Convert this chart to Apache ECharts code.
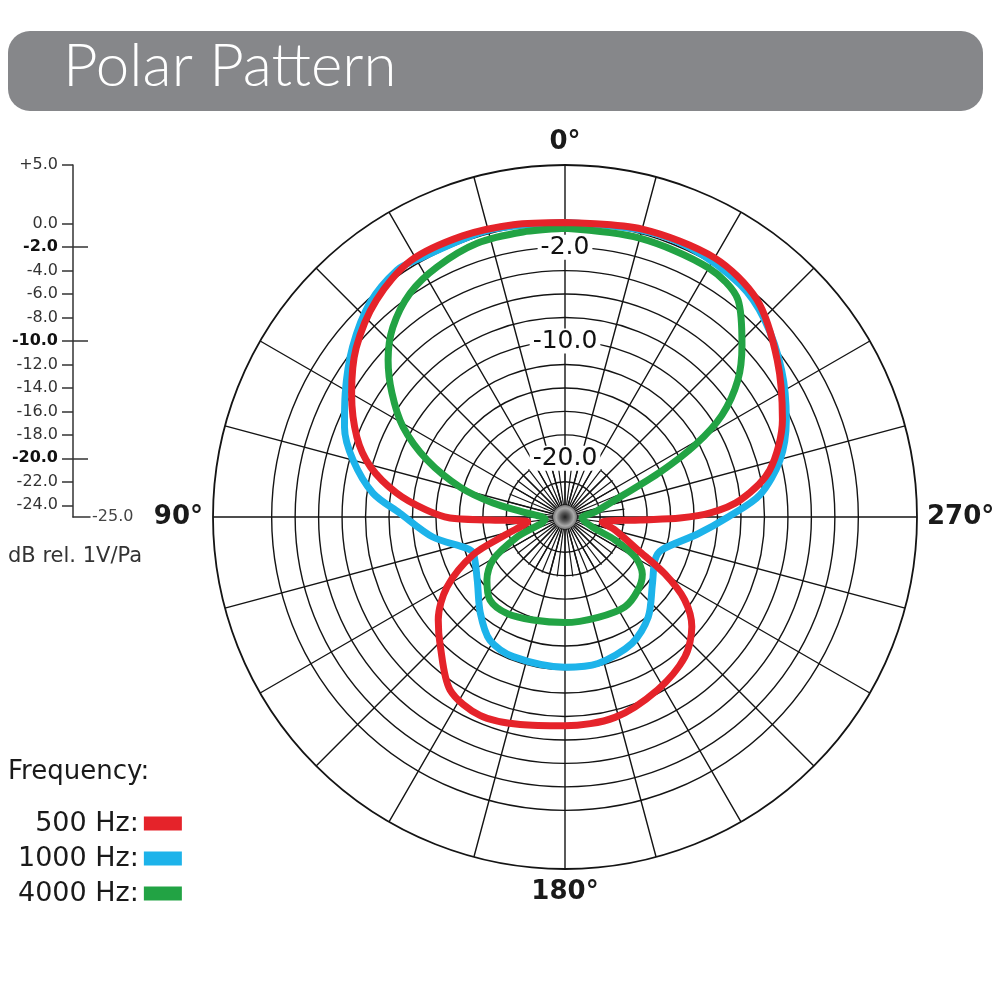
<!DOCTYPE html>
<html><head><meta charset="utf-8">
<script src="https://cdn.jsdelivr.net/npm/echarts@6/dist/echarts.min.js"></script>
<style>html,body{margin:0;padding:0;background:#fff}#c{width:1000px;height:1000px}</style>
</head><body><div id="c"></div>
<script>
// ---- data (angle in degrees, counter-clockwise from 0° at top; level in dB) ----
const seriesNames = ['500 Hz', '1000 Hz', '4000 Hz'];

const redAngle = [0, 10, 20, 31, 41, 51, 60, 69, 75.6, 81.9, 87, 90.5, 92.3, 97.7, 106.7, 112.4, 120.7, 129, 136, 146.4, 156.8, 167.8, 180, 194, 208.3, 220.6, 229.1, 235.3, 240.3, 245.7, 255.4, 262, 267.7, 269.5, 271.6, 275.5, 282.9, 294.1, 306.5, 318.5, 330, 345, 360];
const redDb    = [0.1, 0.3, 0.5, 0.5, -0.5, -2.1, -4.0, -6.0, -7.9, -10.5, -13.1, -15.2, -18.6, -21.8, -19.7, -16.5, -13.3, -11.1, -9.7, -7.3, -6.6, -6.9, -7.2, -7.4, -8.3, -9.3, -10.7, -12.6, -15.2, -18.2, -20.6, -21.8, -18.6, -15.2, -12.6, -10.0, -7.1, -4.7, -2.5, -0.3, 0.5, 0.4, 0.1];

const blueAngle = [0, 15, 29.9, 34.2, 42.3, 51.3, 60.6, 67.8, 75, 82.9, 88.6, 98.6, 107.6, 111.4, 125.6, 138.5, 148.6, 159.6, 180, 192.7, 207.8, 219.7, 232.4, 244.5, 251.2, 262.7, 270, 276.4, 284.8, 293.7, 304.1, 314.6, 323, 335, 345, 360];
const blueDb    = [0.1, 0.3, 0.3, 0.45, -0.3, -1.8, -3.5, -4.7, -6.3, -8.5, -10.9, -13.6, -16.2, -16.6, -15.8, -14.1, -12.7, -12.3, -12.2, -12.2, -12.8, -13.9, -15.6, -16.5, -16.3, -13.6, -11.1, -8.3, -6.05, -4.4, -2.7, -1.1, -0.2, 0.3, 0.3, 0.1];

const greenAngle = [0, 8.4, 17.8, 27.1, 34.7, 42.2, 48.4, 54.4, 60.9, 67.6, 74.1, 79, 84, 96, 112.6, 120.8, 128.9, 137.9, 148.9, 162.7, 180, 198.3, 213.7, 225, 233.5, 240.3, 245.3, 249.7, 266.6, 279.5, 290, 295.3, 299, 303, 308.4, 314.2, 321.4, 330, 345, 360];
const greenDb    = [-0.4, -0.45, -0.5, -1.06, -1.8, -3.16, -4.84, -6.86, -9.2, -12.3, -15.7, -18.75, -21.7, -23.3, -20.6, -17.85, -16.45, -15.46, -15.4, -15.8, -16.0, -16.0, -15.8, -16.2, -16.8, -18.1, -20.3, -22.5, -23.55, -22.4, -20.0, -16.0, -12.3, -9.05, -6.2, -3.96, -1.35, -0.5, -0.4, -0.4];

const scaleTicks = [5, 0, -2, -4, -6, -8, -10, -12, -14, -16, -18, -20, -22, -24];
const boldTicks = [-2, -10, -20];
const ringLabelValues = [-2, -10, -20];
const angleLabelValues = [0, 90, 180, 270];
const dbMin = -25, dbMax = 5;

// ---- build ----
const FONT = 'DejaVu Sans';
const GRID = '#141414';
const pairs = (db, ang) => db.map((d, i) => [d, ang[i]]);

const ringColors = [];
for (let v = dbMin; v <= dbMax; v++) {
  ringColors.push((v <= 0 && v >= -24 && v % 2 === 0) ? GRID : 'rgba(0,0,0,0)');
}

const curveStyle = [
  { color: '#e5232a' },
  { color: '#1db3ea' },
  { color: '#22a344' }
];

const chart = echarts.init(document.getElementById('c'), null, { renderer: 'canvas' });
const spokeAxis = (idx, step) => ({
  polarIndex: idx, type: 'value', min: 0, max: 360, interval: step,
  startAngle: 90, clockwise: false,
  axisLine: { show: false }, axisTick: { show: false }, axisLabel: { show: false },
  splitLine: { show: true, lineStyle: { color: GRID, width: 1.2 } }
});

chart.setOption({
  animation: false,
  backgroundColor: '#fff',
  graphic: [{
    type: 'rect', left: 8, top: 31, z: -10,
    shape: { width: 975, height: 80, r: 22 },
    style: { fill: '#86878a' }
  }],
  title: [
    { text: 'Polar Pattern', left: 63, top: 37, padding: 0, z: 10,
      textStyle: { color: '#fff', fontSize: 60, fontWeight: 300, fontFamily: 'Lato' } },
    { text: 'Frequency:', left: 8, top: 759, padding: 0,
      textStyle: { color: '#1a1a1a', fontSize: 26, fontWeight: 'normal', fontFamily: FONT } },
    { text: 'dB rel. 1V/Pa', left: 8, top: 546, padding: 0,
      textStyle: { color: '#333', fontSize: 21, fontWeight: 'normal', fontFamily: FONT } }
  ],
  legend: {
    data: seriesNames, orient: 'vertical', align: 'right',
    left: 13, top: 805, itemWidth: 38, itemHeight: 14, itemGap: 8,
    icon: 'rect', selectedMode: false, formatter: '{name}:',
    itemStyle: { borderWidth: 0 },
    textStyle: { fontSize: 27, color: '#1a1a1a', fontFamily: FONT }
  },
  grid: { left: 73, top: 165, width: 17, height: 352 },
  xAxis: {
    type: 'value', min: 0, max: 1, position: 'bottom',
    axisLine: { show: true, onZero: false, lineStyle: { color: '#333', width: 1.5 } },
    axisTick: { show: false }, axisLabel: { show: false }, splitLine: { show: false },
    name: '-25.0', nameLocation: 'end', nameGap: 2,
    nameTextStyle: { fontSize: 16, color: '#444', fontFamily: FONT, align: 'left', verticalAlign: 'middle' }
  },
  yAxis: [{
    type: 'value', min: dbMin, max: dbMax, position: 'left',
    axisLine: { show: true, onZero: false, lineStyle: { color: '#333', width: 1.5 } },
    axisTick: { show: true, length: 11, customValues: scaleTicks, lineStyle: { color: '#333', width: 1.5 } },
    axisLabel: {
      show: true, customValues: scaleTicks, margin: 15,
      fontSize: 16, color: '#333', fontFamily: FONT,
      formatter: v => {
        if (v === 5) return '+5.0';
        const t = v.toFixed(1);
        return boldTicks.indexOf(v) >= 0 ? '{b|' + t + '}' : t;
      },
      rich: { b: { fontSize: 16, fontWeight: 'bold', color: '#111', fontFamily: FONT } }
    },
    splitLine: { show: false }
  }, {
    type: 'value', min: dbMin, max: dbMax, position: 'left', offset: 0,
    axisLine: { show: false, onZero: false },
    axisTick: { show: true, inside: true, length: 15, customValues: boldTicks, lineStyle: { color: '#333', width: 1.5 } },
    axisLabel: { show: false }, splitLine: { show: false }
  }],
  polar: [
    { center: [565, 517], radius: 352 },
    { center: [565, 517], radius: 60 }
  ],
  angleAxis: [{
    polarIndex: 0, type: 'value', min: 0, max: 360, interval: 15,
    startAngle: 90, clockwise: false,
    axisLine: { show: true, lineStyle: { color: GRID, width: 1.8 } },
    axisTick: { show: false },
    axisLabel: {
      show: true, margin: 10, fontSize: 26, fontWeight: 'bold', color: '#1a1a1a', fontFamily: FONT,
      formatter: v => (angleLabelValues.indexOf(v) >= 0 ? v + '°' : '')
    },
    splitLine: { show: true, lineStyle: { color: GRID, width: 1.4 } }
  }, spokeAxis(1, 7.5)],
  radiusAxis: [{
    polarIndex: 0, type: 'value', min: dbMin, max: dbMax, interval: 1,
    axisLine: { show: false }, axisTick: { show: false }, axisLabel: { show: false },
    splitLine: { show: true, lineStyle: { color: ringColors, width: 1.4 } }
  }, { polarIndex: 1, type: 'value', min: 0, max: 1, show: false }],
  series: [
    { name: '1000 Hz', type: 'line', coordinateSystem: 'polar', polarIndex: 0,
      data: pairs(blueDb, blueAngle), symbol: 'none', smooth: 0.3, z: 3,
      itemStyle: curveStyle[1], lineStyle: { color: curveStyle[1].color, width: 7 } },
    { name: '4000 Hz', type: 'line', coordinateSystem: 'polar', polarIndex: 0,
      data: pairs(greenDb, greenAngle), symbol: 'none', smooth: 0.3, z: 4,
      itemStyle: curveStyle[2], lineStyle: { color: curveStyle[2].color, width: 7 } },
    { name: '500 Hz', type: 'line', coordinateSystem: 'polar', polarIndex: 0,
      data: pairs(redDb, redAngle), symbol: 'none', smooth: 0.3, z: 5,
      itemStyle: curveStyle[0], lineStyle: { color: curveStyle[0].color, width: 7 } },
    { name: 'ringLabels', type: 'scatter', coordinateSystem: 'polar', polarIndex: 0, z: 2,
      data: ringLabelValues.map(v => [v, 0]), symbolSize: 2,
      itemStyle: { color: 'rgba(0,0,0,0)', opacity: 1 },
      silent: true,
      label: { show: true, position: 'inside', opacity: 1, formatter: p => p.value[0].toFixed(1),
        fontSize: 25, color: '#111', fontFamily: FONT, backgroundColor: '#fff', padding: [0, 3] } },
    { name: 'hub', type: 'scatter', coordinateSystem: 'polar', polarIndex: 0, z: 6,
      data: [[dbMin, 0]], symbolSize: 24, silent: true,
      itemStyle: { opacity: 1, color: { type: 'radial', x: 0.5, y: 0.5, r: 0.5,
        colorStops: [{ offset: 0, color: '#222' }, { offset: 0.35, color: '#555' }, { offset: 0.75, color: '#aaa' }, { offset: 1, color: '#777' }] } } }
  ]
});
</script>
</body></html>
